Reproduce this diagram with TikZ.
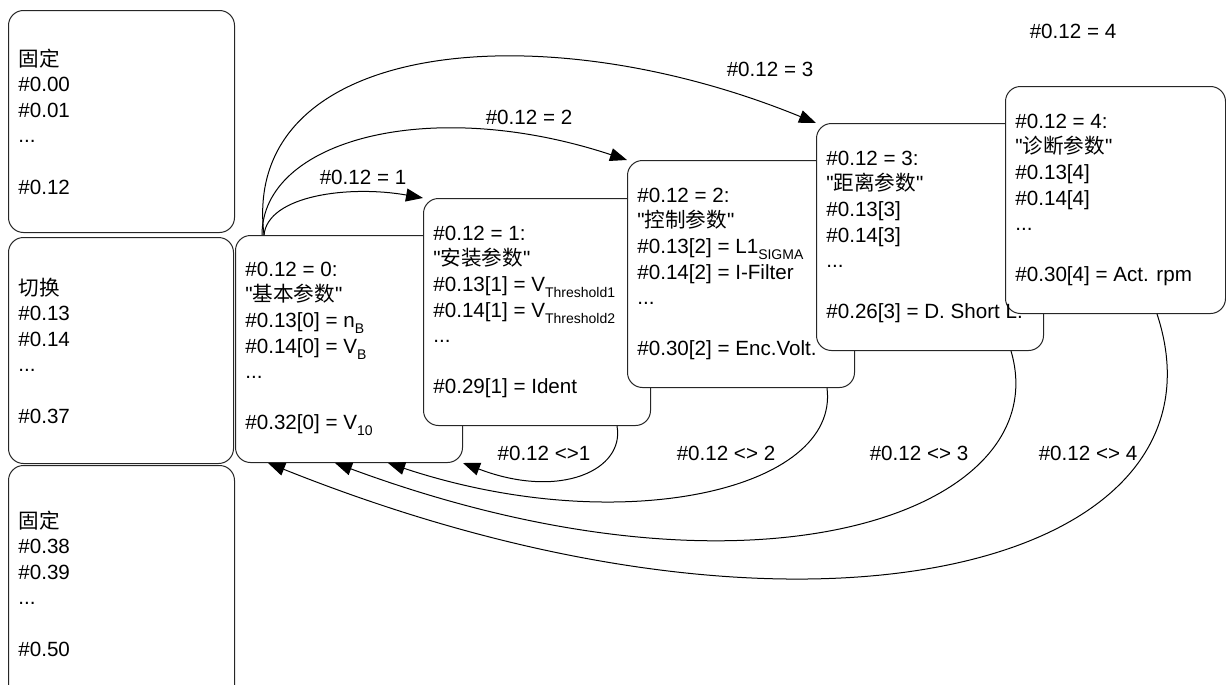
\documentclass[tikz,border=0pt]{standalone}
\usepackage{fontspec}
\setmainfont{Liberation Sans}
\newfontfamily\qfont{Liberation Sans}
\newfontfamily\cjk{Noto Sans CJK SC}
\usetikzlibrary{arrows.meta,calc}
\newcommand\lowsub[1]{\raisebox{-0.55ex}{\fontsize{7}{8}\selectfont #1}}
\newcommand\qmark{{\qfont\symbol{34}}}
\begin{document}
\begin{tikzpicture}[x=0.5pt,y=-0.5pt,
  pbox/.style={draw=black!85, line width=0.5pt, rounded corners=7.5pt, fill=white, anchor=north west, inner sep=0pt},
  ptext/.style={anchor=west, align=left, inner sep=0pt, font=\fontsize{10.3}{12.8}\selectfont},
  conn/.style={draw, line width=0.5pt, -{Triangle[length=8.5pt,width=6.5pt]}},
  lbl/.style={inner sep=0pt, font=\fontsize{10.3}{12.8}\selectfont}]
\useasboundingbox (0,0) rectangle (1226,685);
% boxes
\node[pbox, minimum width=113pt, minimum height=111pt] (L1) at (8,10) {};
\node[pbox, minimum width=112.5pt, minimum height=113pt] (L2) at (8,237) {};
\node[pbox, minimum width=113pt, minimum height=118pt] (L3) at (8,465) {};
\node[pbox, minimum width=113.5pt, minimum height=113.5pt] (b0) at (235,235) {};
\node[pbox, minimum width=113.5pt, minimum height=113.5pt] (b1) at (423,198) {};
\node[pbox, minimum width=113.5pt, minimum height=113.5pt] (b2) at (627,160) {};
\node[pbox, minimum width=113.5pt, minimum height=113.5pt] (b3) at (816,123) {};
\node[pbox, minimum width=110pt, minimum height=113.5pt] (b4) at (1005,86) {};
% texts
\node[ptext] (tL1) at ($(L1.west)+(10,0)$) {{\cjk 固定}\\ \#0.00\\ \#0.01\\ ...\\[12.8pt] \#0.12};
\node[ptext] (tL2) at ($(L2.west)+(10,0)$) {{\cjk 切换}\\ \#0.13\\ \#0.14\\ ...\\[12.8pt] \#0.37};
\node[ptext] (tL3) at ($(L3.west)+(10,0)$) {{\cjk 固定}\\ \#0.38\\ \#0.39\\ ...\\[12.8pt] \#0.50};
\node[ptext] (t0) at ($(b0.west)+(10,0)$) {\#0.12 = 0:\\ \qmark{\cjk 基本参数}\qmark\\ \#0.13[0] = n\lowsub{B}\\ \#0.14[0] = V\lowsub{B}\\ ...\\[12.8pt] \#0.32[0] = V\lowsub{10}};
\node[ptext] (t1) at ($(b1.west)+(10,0)$) {\#0.12 = 1:\\ \qmark{\cjk 安装参数}\qmark\\ \#0.13[1] = V\lowsub{Threshold1}\\ \#0.14[1] = V\lowsub{Threshold2}\\ ...\\[12.8pt] \#0.29[1] = Ident};
\node[ptext] (t2) at ($(b2.west)+(10,0)$) {\#0.12 = 2:\\ \qmark{\cjk 控制参数}\qmark\\ \#0.13[2] = L1\lowsub{SIGMA}\\ \#0.14[2] = I-Filter\\ ...\\[12.8pt] \#0.30[2] = Enc.Volt.};
\node[ptext] (t3) at ($(b3.west)+(10,0)$) {\#0.12 = 3:\\ \qmark{\cjk 距离参数}\qmark\\ \#0.13[3]\\ \#0.14[3]\\ ...\\[12.8pt] \#0.26[3] = D. Short L.};
\node[ptext] (t4) at ($(b4.west)+(10,0)$) {\#0.12 = 4:\\ \qmark{\cjk 诊断参数}\qmark\\ \#0.13[4]\\ \#0.14[4]\\ ...\\[12.8pt] \#0.30[4] = Act. rpm};
% forward connectors
\draw[conn] ($(b0.north west)+(29,0)$) .. controls (268,195) and (350,185) .. (b1.north west);
\draw[conn] ($(b0.north west)+(27,0)$) .. controls (262,140) and (430,95) .. (b2.north west);
\draw[conn] ($(b0.north west)+(29,0)$) .. controls (240,40) and (540,10) .. (b3.north west);
% return connectors
\draw[conn] ($(b1.south west)+(194,0)$) .. controls (625,470) and (560,500) .. (b0.south east);
\draw[conn] ($(b2.south west)+(200,0)$) .. controls (840,490) and (620,540) .. ($(b0.south west)+(153,0)$);
\draw[conn] ($(b3.south west)+(195,0)$) .. controls (1058,510) and (760,620) .. ($(b0.south west)+(100,0)$);
\draw[conn] ($(b4.south west)+(152,0)$) .. controls (1240,565) and (810,680) .. ($(b0.south west)+(33,0)$);
% labels
\node[lbl] (l1) at (363,177) {\#0.12 = 1};
\node[lbl] (l2) at (529,117) {\#0.12 = 2};
\node[lbl] (l3) at (770,69) {\#0.12 = 3};
\node[lbl] (l4) at (1073,31) {\#0.12 = 4};
\node[lbl] (m1) at (544,453) {\#0.12 <>1};
\node[lbl] (m2) at (726,453) {\#0.12 <> 2};
\node[lbl] (m3) at (919,453) {\#0.12 <> 3};
\node[lbl] (m4) at (1088,453) {\#0.12 <> 4};
\end{tikzpicture}
\end{document}
